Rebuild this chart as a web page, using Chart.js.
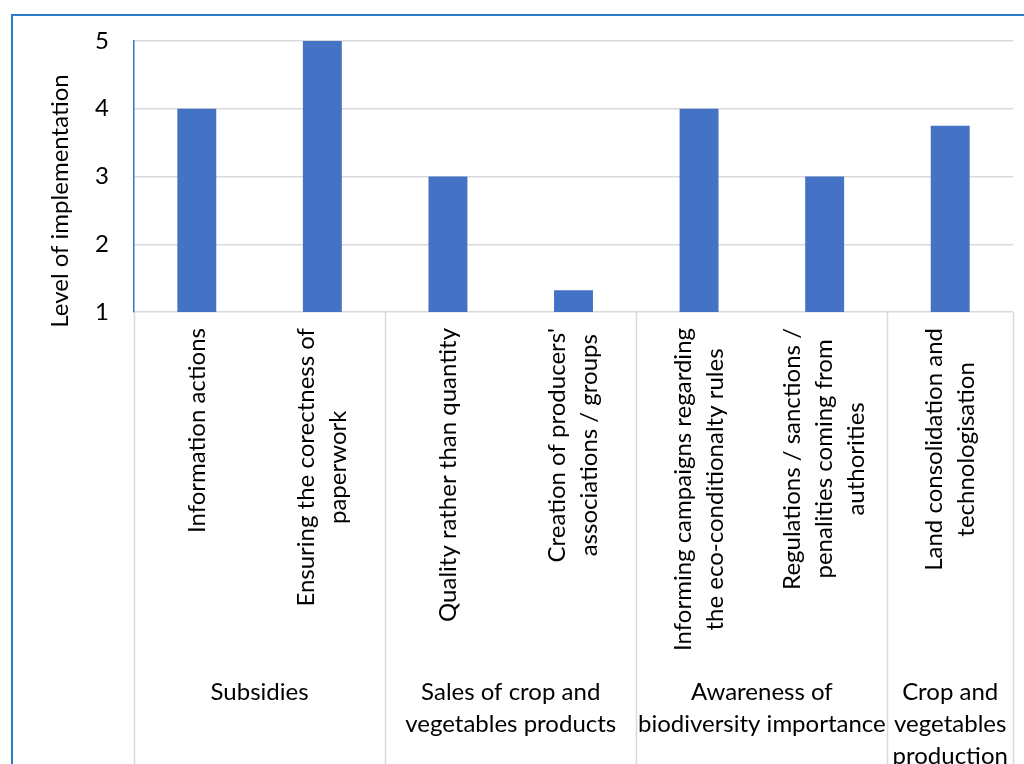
<!DOCTYPE html>
<html>
<head>
<meta charset="utf-8">
<script src="https://cdn.jsdelivr.net/npm/chart.js@4/dist/chart.umd.min.js"></script>
<style>
  html, body { margin: 0; padding: 0; background: #ffffff; }
  #wrap { position: relative; width: 1024px; height: 764px; overflow: hidden; }
</style>
</head>
<body>
<div id="wrap"><canvas id="c" width="1024" height="764"></canvas></div>
<script>
// Measures and their implementation scores
const categories = [
  ["Information actions"],
  ["Ensuring the corectness of", "paperwork"],
  ["Quality rather than quantity"],
  ["Creation of producers'", "associations / groups"],
  ["Informing campaigns regarding", "the eco-conditionalty rules"],
  ["Regulations / sanctions /", "penalities coming from", "authorities"],
  ["Land consolidation and", "technologisation"]
];
const values = [4, 5, 3, 1.32, 4, 3, 3.75];

// Outer grouping of the measures (number of measures in each group)
const groups = [
  ["Subsidies"],
  ["Sales of crop and", "vegetables products"],
  ["Awareness of", "biodiversity importance"],
  ["Crop and", "vegetables", "production"]
];
const groupSizes = [2, 2, 2, 1];

const yTicks = [1, 2, 3, 4, 5];
const yTitle = "Level of implementation";

const FONT = "Lato, 'Open Sans', sans-serif";
const TEXT_SIZE = 24;
const LINE_H = 32;
const GRID = "#d9d9d9";
const FRAME = "#2a7ccb";

// Draws the rotated measure names, the group row with its dividers,
// the axis title and the surrounding frame.
const labelsPlugin = {
  id: "groupedLabels",
  afterDraw(chart) {
    const ctx = chart.ctx;
    const x = chart.scales.x;
    const y = chart.scales.y;
    const axisY = y.getPixelForValue(yTicks[0]);
    ctx.save();
    ctx.fillStyle = "#000000";
    ctx.font = TEXT_SIZE + "px " + FONT;
    ctx.textBaseline = "middle";
    ctx.textAlign = "center";

    // measure names, rotated, block centred on each bar, text ending near the axis
    const topGap = 16;
    categories.forEach((lines, i) => {
      const cx = x.getPixelForValue(i);
      const maxW = Math.max(...lines.map(l => ctx.measureText(l).width));
      const cy = axisY + topGap + maxW / 2;
      lines.forEach((line, k) => {
        const off = (k - (lines.length - 1) / 2) * LINE_H;
        ctx.save();
        ctx.translate(cx + off, cy);
        ctx.rotate(-Math.PI / 2);
        ctx.fillText(line, 0, 0);
        ctx.restore();
      });
    });

    // group dividers and names
    const half = (x.getPixelForValue(1) - x.getPixelForValue(0)) / 2;
    ctx.strokeStyle = GRID;
    ctx.lineWidth = 1.5;
    let start = 0;
    const edges = [x.left];
    groupSizes.forEach(n => {
      start += n;
      edges.push(start >= categories.length ? x.right : x.getPixelForValue(start) - half);
    });
    edges.forEach(ex => {
      ctx.beginPath();
      ctx.moveTo(Math.round(ex) + 0.5, axisY);
      ctx.lineTo(Math.round(ex) + 0.5, chart.height + 2);
      ctx.stroke();
    });
    groups.forEach((lines, g) => {
      const cx = (edges[g] + edges[g + 1]) / 2;
      lines.forEach((line, k) => {
        ctx.fillText(line, cx, 692 + k * LINE_H);
      });
    });

    // axis title
    ctx.save();
    ctx.translate(60, 201);
    ctx.rotate(-Math.PI / 2);
    ctx.fillText(yTitle, 0, 0);
    ctx.restore();

    // chart frame
    ctx.strokeStyle = FRAME;
    ctx.lineWidth = 2;
    ctx.strokeRect(12, 15, chart.width + 20, chart.height + 20);
    ctx.restore();
  }
};

new Chart(document.getElementById("c"), {
  type: "bar",
  data: {
    labels: categories,
    datasets: [{
      data: values,
      backgroundColor: "#4472c4",
      borderWidth: 0,
      barPercentage: 0.31,
      categoryPercentage: 1
    }]
  },
  options: {
    responsive: false,
    animation: false,
    devicePixelRatio: 1,
    layout: { padding: { top: 41, right: 11, bottom: 0, left: 0 } },
    plugins: {
      legend: { display: false },
      tooltip: { enabled: false }
    },
    scales: {
      x: {
        grid: { display: false },
        border: { display: false },
        ticks: { display: false },
        afterFit(scale) { scale.height = 764 - 312; }
      },
      y: {
        min: yTicks[0],
        max: yTicks[yTicks.length - 1],
        afterBuildTicks(scale) { scale.ticks = yTicks.map(v => ({ value: v })); },
        afterFit(scale) { scale.width = 134; },
        grid: { color: GRID, lineWidth: 1.5, drawTicks: false },
        border: { display: true, color: FRAME, width: 1.5 },
        ticks: {
          padding: 25,
          color: "#000000",
          font: { family: FONT, size: TEXT_SIZE }
        }
      }
    }
  },
  plugins: [labelsPlugin]
});
</script>
</body>
</html>
